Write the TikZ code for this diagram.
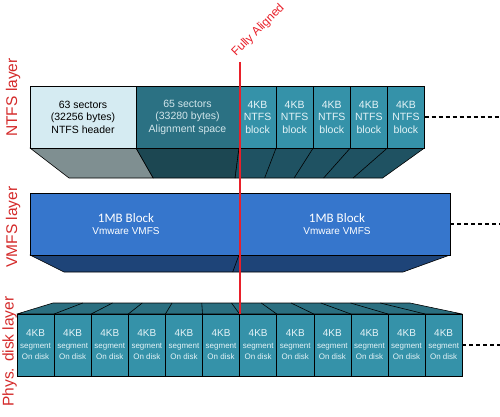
\documentclass[tikz,border=0pt]{standalone}
\usepackage{fontspec}
\setmainfont{Liberation Sans}
\newfontfamily\calfont{Carlito}
\usetikzlibrary{positioning}

\definecolor{hdrfront}{HTML}{D5EBF2}
\definecolor{hdrbot}{HTML}{7F8F91}
\definecolor{algnfront}{HTML}{2B7183}
\definecolor{algnbot}{HTML}{1C4752}
\definecolor{blkfront}{HTML}{3592A9}
\definecolor{blkbot}{HTML}{1F5262}
\definecolor{blktext}{HTML}{E4F3F7}
\definecolor{vmfsfront}{HTML}{3676CC}
\definecolor{vmfsbot}{HTML}{1E4478}
\definecolor{segtop}{HTML}{2B6F80}
\definecolor{layerred}{HTML}{D42A2A}
\definecolor{alignred}{HTML}{E8202A}

\tikzstyle{face} = [draw=black, line width=0.6pt, line join=round]
\tikzstyle{ntfsbox} = [rectangle, minimum height=62pt, inner sep=0pt, outer sep=0pt, draw=black, line width=0.6pt, align=center, font=\fontsize{10.5}{12.5}\selectfont]
\tikzstyle{blk} = [ntfsbox, minimum width=37.1pt, fill=blkfront, text=blktext]
\tikzstyle{seg} = [rectangle, minimum width=37.1pt, minimum height=62pt, inner sep=0pt, outer sep=0pt, draw=black, line width=0.6pt, fill=blkfront, text=blktext, align=center, font=\fontsize{8}{11.5}\selectfont]
\tikzstyle{vmfstext} = [align=center, text=white]
\tikzstyle{layer} = [rotate=90, anchor=base, text=layerred, font=\fontsize{15.5}{18}\selectfont]
\tikzstyle{dotline} = [line width=2pt, dash pattern=on 4pt off 3pt]

\begin{document}
\begin{tikzpicture}[x=1pt, y=-1pt]
\useasboundingbox (0,0) rectangle (500,417);

% NTFS layer, underside
\path[face, fill=hdrbot] (30,148) -- (136,148) -- (153.2,178) -- (69,178) -- cycle;
\path[face, fill=algnbot] (136,148) -- (239,148) -- (235.1,178) -- (153.2,178) -- cycle;
\path[face, fill=blkbot] (239,148) -- (424.5,148) -- (382.6,178) -- (235.1,178) -- cycle;
\foreach \x in {276.1,313.2,350.3,387.4}
  \draw[face] (\x,148) -- ({220.2+0.795*(\x-220.2)},178);

\node (hdr) [ntfsbox, minimum width=106pt, fill=hdrfront, text=black, anchor=north west] at (30,86) {63 sectors\\(32256 bytes)\\NTFS header};
\node (algn) [ntfsbox, minimum width=103pt, fill=algnfront, text=blktext!90!algnfront, right=0pt of hdr] {65 sectors\\(33280 bytes)\\Alignment space};
\node (blkA) [blk, right=0pt of algn] {4KB\\NTFS\\block};
\node (blkB) [blk, right=0pt of blkA] {4KB\\NTFS\\block};
\node (blkC) [blk, right=0pt of blkB] {4KB\\NTFS\\block};
\node (blkD) [blk, right=0pt of blkC] {4KB\\NTFS\\block};
\node (blkE) [blk, right=0pt of blkD] {4KB\\NTFS\\block};

% VMFS layer
\path[face, fill=vmfsbot] (30,255) -- (450,255) -- (403,272) -- (64,272) -- cycle;
\draw[face] (239,255) -- (232.7,272);
\node (vmfs) [rectangle, draw=black, line width=0.6pt, fill=vmfsfront, minimum width=420pt, minimum height=62pt, inner sep=0pt, outer sep=0pt, anchor=north west] at (30,193) {};
\node (vmfsA) [vmfstext] at (126,224) {{\calfont\fontsize{13}{15}\selectfont 1MB Block}\\{\fontsize{10}{12}\selectfont Vmware VMFS}};
\node (vmfsB) [vmfstext] at (337,224) {{\calfont\fontsize{13}{15}\selectfont 1MB Block}\\{\fontsize{10}{12}\selectfont Vmware VMFS}};

% physical disk layer, top side
\path[face, fill=segtop] (17,314) -- (53,303) -- (410,303) -- (462.2,314) -- cycle;
\foreach \x in {54.1,91.2,128.3,165.4,202.5,239.6,276.7,313.8,350.9,388.0,425.1}
  \draw[face] (\x,314) -- ({198.8+0.802*(\x-198.8)},303);

\node (segA) [seg, anchor=north west] at (17,314) {{\fontsize{10}{11}\selectfont 4KB}\\segment\\On disk};
\node (segB) [seg, right=0pt of segA] {{\fontsize{10}{11}\selectfont 4KB}\\segment\\On disk};
\node (segC) [seg, right=0pt of segB] {{\fontsize{10}{11}\selectfont 4KB}\\segment\\On disk};
\node (segD) [seg, right=0pt of segC] {{\fontsize{10}{11}\selectfont 4KB}\\segment\\On disk};
\node (segE) [seg, right=0pt of segD] {{\fontsize{10}{11}\selectfont 4KB}\\segment\\On disk};
\node (segF) [seg, right=0pt of segE] {{\fontsize{10}{11}\selectfont 4KB}\\segment\\On disk};
\node (segG) [seg, right=0pt of segF] {{\fontsize{10}{11}\selectfont 4KB}\\segment\\On disk};
\node (segH) [seg, right=0pt of segG] {{\fontsize{10}{11}\selectfont 4KB}\\segment\\On disk};
\node (segI) [seg, right=0pt of segH] {{\fontsize{10}{11}\selectfont 4KB}\\segment\\On disk};
\node (segJ) [seg, right=0pt of segI] {{\fontsize{10}{11}\selectfont 4KB}\\segment\\On disk};
\node (segK) [seg, right=0pt of segJ] {{\fontsize{10}{11}\selectfont 4KB}\\segment\\On disk};
\node (segL) [seg, right=0pt of segK] {{\fontsize{10}{11}\selectfont 4KB}\\segment\\On disk};

% layer names
\node (ntfsLbl) [layer] at (17,97.5) {NTFS layer};
\node (vmfsLbl) [layer] at (17,227) {VMFS layer};
\node (physLbl) [layer] at (13.5,351.5) {Phys. disk layer};

% continuation to the right
\coordinate (ntfsEnd) at (500,117);
\coordinate (vmfsEnd) at (500,224);
\coordinate (physEnd) at (500,345);
\draw[dotline] (blkE.east) -- (ntfsEnd);
\draw[dotline] (vmfs.east) -- (vmfsEnd);
\draw[dotline] (segL.east) -- (physEnd);

% alignment marker
\coordinate (alignTop) at (240,62);
\coordinate (alignBot) at (240,314);
\draw[alignred, line width=1.6pt] (alignTop) -- (alignBot);
\node (alignLbl) [rotate=45, anchor=base west, inner sep=0pt, text=alignred, font=\fontsize{12}{14}\selectfont] at (236,57) {Fully Aligned};
\end{tikzpicture}
\end{document}
